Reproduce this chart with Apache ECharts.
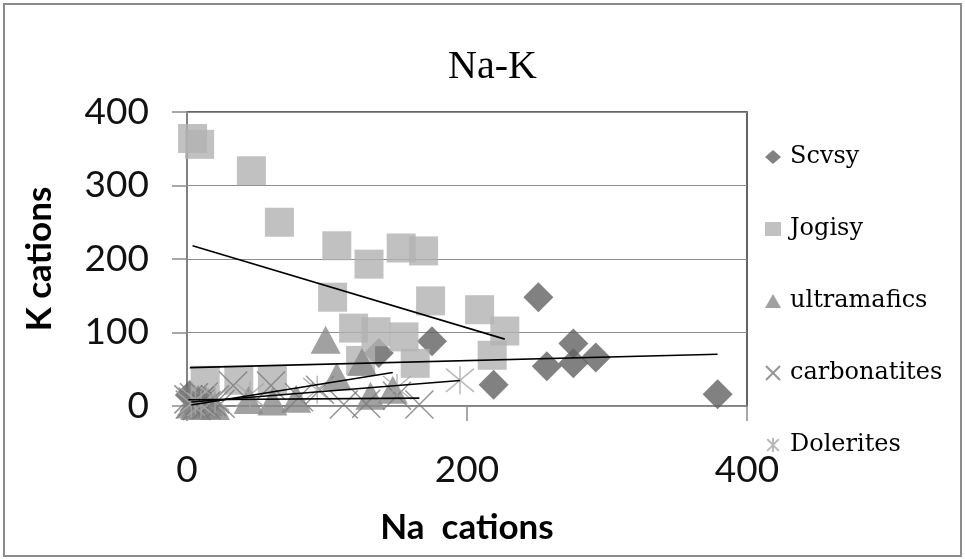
<!DOCTYPE html>
<html>
<head>
<meta charset="utf-8">
<script src="https://cdn.jsdelivr.net/npm/echarts@6/dist/echarts.min.js"></script>
<style>
html,body{margin:0;padding:0;background:#fff;}
#chart{width:965px;height:559px;}
</style>
</head>
<body>
<div id="chart"></div>
<script>
// ---- data (Na cations, K cations) ----
const seriesNames = ['Scvsy', 'Jogisy', 'ultramafics', 'carbonatites', 'Dolerites'];
const scvsy = [[251,148],[175,88],[219,29],[257,54],[276,85],[276,58],[292,66],[379,16],[137,72],[2,15]];
const jogisy = [[4,364],[9,356],[46,320],[66,250],[107,218],[130,193],[153,215],[169,211],[174,143],[209,131],[227,102],[218,69],[163,58],[155,94],[104,148],[119,106],[135,101],[124,62],[13,35],[37,35],[61,35]];
const ultramafics = [[3,2],[6,0],[8,10],[12,1],[15,5],[20,0],[44,8],[61,6],[78,10],[99,90],[107,40],[125,60],[131,14],[147,22]];
const carbonatites = [[1,9],[2,2],[4,6],[5,12],[7,0],[9,7],[10,4],[12,13],[14,1],[18,5],[20,9],[24,3],[33,28],[60,28],[80,12],[95,22],[112,2],[128,3],[150,14],[166,2]];
const dolerites = [[3,3],[6,8],[10,2],[20,10],[45,15],[93,22],[150,25],[195,35]];
const xTicks = [0, 200, 400];
const yTicks = [0, 100, 200, 300, 400];

// linear least-squares trend over the data's x range
function trend(pts) {
  const n = pts.length;
  let sx = 0, sy = 0, sxy = 0, sxx = 0, mn = Infinity, mx = -Infinity;
  pts.forEach(([x, y]) => { sx += x; sy += y; sxy += x * y; sxx += x * x; mn = Math.min(mn, x); mx = Math.max(mx, x); });
  const b = (n * sxy - sx * sy) / (n * sxx - sx * sx);
  const a = (sy - b * sx) / n;
  return [[mn, a + b * mn], [mx, a + b * mx]];
}

const xPath = 'path://M0,0L10,10M10,0L0,10';
const starPath = 'path://M0,0L10,10M10,0L0,10M5,-1L5,11';
const sets = [
  {name: 'Scvsy', data: scvsy, symbol: 'diamond', size: [30, 30], style: {color: '#626262'}},
  {name: 'Jogisy', data: jogisy, symbol: 'rect', size: [29, 29], style: {color: '#b2b2b2'}},
  {name: 'ultramafics', data: ultramafics, symbol: 'triangle', size: [30, 28], style: {color: '#8a8a8a'}},
  {name: 'carbonatites', data: carbonatites, symbol: xPath, size: [28, 28], style: {color: 'rgba(0,0,0,0)', borderColor: '#7a7a7a', borderWidth: 1.5}},
  {name: 'Dolerites', data: dolerites, symbol: starPath, size: [28, 28], style: {color: 'rgba(0,0,0,0)', borderColor: '#a8a8a8', borderWidth: 1.5}}
];

const series = [];
sets.forEach((s, i) => {
  series.push({
    name: s.name, type: 'scatter', data: s.data, symbol: s.symbol, symbolSize: s.size,
    itemStyle: s.style, z: 2 + i, emphasis: {disabled: true}
  });
});
sets.forEach((s) => {
  series.push({
    name: s.name + ' trend', type: 'line', data: trend(s.data), symbol: 'none', silent: true,
    lineStyle: {color: '#000', width: 1.6}, z: 10
  });
});

const chart = echarts.init(document.getElementById('chart'), null, {renderer: 'canvas'});
chart.setOption({
  animation: false,
  backgroundColor: '#fff',
  title: {
    text: 'Na-K', left: 443, top: 42,
    textStyle: {fontFamily: 'Liberation Serif', fontSize: 40, fontWeight: 'normal', color: '#000'}
  },
  graphic: [{
    type: 'rect', shape: {x: 4, y: 4, width: 957, height: 552},
    style: {fill: 'none', stroke: '#8c8c8c', lineWidth: 2}, silent: true
  }],
  legend: {
    orient: 'vertical', left: 760, top: 139, itemGap: 46, itemWidth: 16, itemHeight: 14,
    data: seriesNames.map((n, i) => ({name: n, icon: sets[i].symbol})),
    textStyle: {fontFamily: 'DejaVu Serif', fontSize: 24, color: '#000', lineHeight: 26, padding: [0, 0, 0, 4]}
  },
  grid: {left: 187, right: 218, top: 112, bottom: 153, show: true, borderColor: '#333', borderWidth: 1.5},
  xAxis: {
    type: 'value', min: xTicks[0], max: xTicks[xTicks.length - 1], interval: 200,
    name: 'Na  cations', nameLocation: 'middle', nameGap: 104,
    nameTextStyle: {fontFamily: 'Lato', fontWeight: 'bold', fontSize: 35, color: '#000'},
    axisLine: {show: true, lineStyle: {color: '#8c8c8c', width: 1.5}},
    axisTick: {show: true, length: 15, lineStyle: {color: '#8c8c8c', width: 1.5}},
    axisLabel: {margin: 46, fontFamily: 'Lato', fontSize: 37, color: '#111'},
    splitLine: {show: false}
  },
  yAxis: {
    type: 'value', min: yTicks[0], max: yTicks[yTicks.length - 1], interval: 100,
    name: 'K cations', nameLocation: 'middle', nameGap: 130,
    nameTextStyle: {fontFamily: 'Lato', fontWeight: 'bold', fontSize: 35, color: '#000'},
    axisLine: {show: true, lineStyle: {color: '#8c8c8c', width: 1.5}},
    axisTick: {show: true, length: 15, lineStyle: {color: '#8c8c8c', width: 1.5}},
    axisLabel: {margin: 38, fontFamily: 'Lato', fontSize: 37, color: '#111'},
    splitLine: {show: true, lineStyle: {color: '#8c8c8c', width: 1.2}}
  },
  series: series
});
</script>
</body>
</html>
